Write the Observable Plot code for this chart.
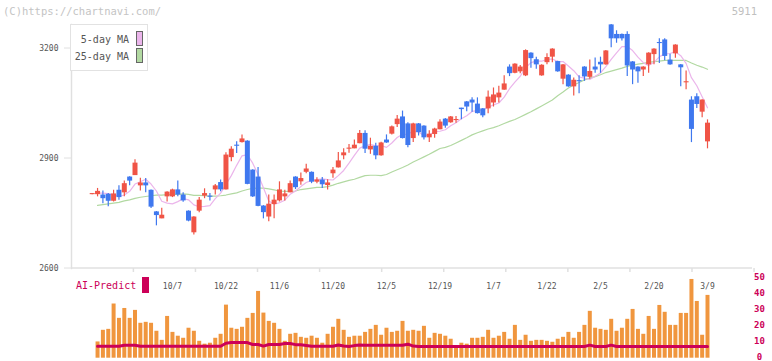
<!DOCTYPE html>
<html><head><meta charset="utf-8">
<script src="https://cdn.jsdelivr.net/npm/d3@7"></script>
<script src="https://cdn.jsdelivr.net/npm/@observablehq/plot@0.6"></script>
<style>
body{margin:0;background:#fff;}
#wrap{position:relative;width:772px;height:361px;overflow:hidden;font-family:"DejaVu Sans Mono",monospace;}
#wrap svg{position:absolute;left:0;top:0;}
.t{position:absolute;white-space:nowrap;line-height:1;}
</style></head><body><div id="wrap"></div>
<script>
// ---- data (bar index 0..115) ----
const opens  = [2800,2800,2799,2801,2782,2812,2805,2848,2852,2824,2832,2812,2753,2734,2794,2794,2813,2799,2755,2696,2755,2796,2796,2813,2833,2813,2901,2935,2942,2946,2867,2848,2769,2739,2773,2783,2794,2805,2848,2835,2861,2861,2834,2840,2825,2857,2873,2906,2924,2925,2939,2967,2922,2932,2906,2949,2965,2991,3012,2993,2953,2993,2987,2955,2964,2977,3006,2996,3002,3036,3053,3058,3047,3034,3034,3050,3064,3085,3148,3131,3135,3124,3186,3168,3124,3160,3175,3163,3115,3126,3094,3111,3148,3120,3148,3161,3154,3263,3237,3237,3237,3162,3148,3140,3154,3182,3215,3222,3167,3184,3154,3105,3058,3067,3025,2944];
const highs  = [2803,2817,2810,2803,2812,2824,2837,2849,2895,2845,2844,2813,2754,2763,2808,2815,2837,2805,2756,2740,2792,2816,2803,2828,2840,2914,2931,2944,2963,2947,2868,2874,2770,2799,2799,2835,2812,2837,2849,2859,2883,2862,2846,2847,2841,2874,2915,2925,2937,2949,2975,2974,2954,2940,2943,2963,2987,3016,3028,2996,2995,2994,2988,2974,2981,3004,3008,3013,3013,3036,3054,3064,3064,3035,3083,3091,3096,3124,3154,3157,3152,3195,3187,3175,3154,3184,3198,3164,3155,3127,3118,3124,3149,3167,3173,3175,3193,3264,3247,3238,3244,3163,3149,3149,3187,3198,3225,3225,3183,3209,3155,3137,3067,3075,3059,3004];
const lows   = [2800,2794,2775,2767,2780,2785,2794,2824,2852,2810,2805,2762,2715,2734,2780,2792,2794,2779,2726,2690,2751,2789,2783,2799,2808,2813,2890,2912,2941,2827,2792,2767,2734,2726,2734,2780,2783,2805,2814,2826,2857,2830,2830,2817,2813,2845,2873,2895,2913,2925,2939,2912,2910,2895,2905,2940,2963,2983,2952,2928,2942,2960,2949,2942,2954,2977,2981,2995,2995,3004,3026,3025,3020,3010,3021,3039,3050,3085,3122,3130,3130,3122,3145,3142,3123,3154,3160,3134,3100,3093,3069,3075,3109,3115,3131,3131,3153,3201,3213,3219,3122,3100,3104,3122,3131,3154,3158,3165,3153,3172,3094,3086,2942,3035,3010,2925];
const closes = [2803,2809,2789,2782,2802,2792,2830,2837,2886,2832,2824,2766,2743,2744,2807,2813,2799,2783,2728,2739,2785,2803,2793,2824,2813,2908,2924,2932,2952,2828,2794,2768,2751,2774,2785,2813,2802,2830,2819,2844,2870,2834,2840,2827,2832,2867,2892,2914,2927,2935,2967,2924,2932,2906,2941,2941,2985,3006,2953,2934,2993,2969,2955,2965,2979,2998,2987,3012,3005,3032,3039,3050,3021,3015,3066,3072,3077,3102,3130,3156,3148,3193,3171,3154,3153,3174,3197,3135,3154,3094,3112,3108,3121,3136,3140,3154,3192,3225,3225,3225,3151,3140,3135,3148,3186,3197,3212,3177,3154,3208,3146,3108,2978,3046,3058,2995];
const ma5    = [null,2804,2804,2803,2800,2795,2799,2809,2829,2835,2842,2829,2810,2782,2777,2775,2781,2789,2786,2772,2767,2768,2770,2789,2804,2828,2852,2880,2906,2909,2886,2855,2819,2783,2774,2778,2785,2801,2810,2822,2833,2839,2841,2843,2841,2840,2852,2866,2886,2907,2927,2933,2937,2933,2934,2929,2941,2956,2965,2964,2974,2971,2961,2963,2972,2973,2977,2988,2996,3007,3015,3027,3029,3031,3038,3045,3050,3066,3089,3107,3123,3146,3160,3164,3164,3169,3170,3163,3163,3151,3138,3121,3118,3114,3123,3132,3149,3169,3187,3204,3204,3193,3175,3160,3152,3161,3176,3184,3185,3190,3179,3158,3119,3097,3067,3037];
const ma25   = [null,2771,2773,2775,2777,2779,2783,2786,2790,2793,2795,2797,2799,2799,2800,2801,2801,2802,2801,2798,2798,2797,2796,2796,2797,2799,2802,2805,2810,2814,2817,2818,2818,2816,2813,2810,2809,2809,2810,2814,2816,2818,2820,2820,2822,2826,2831,2835,2839,2842,2847,2852,2853,2853,2852,2855,2862,2868,2874,2881,2889,2896,2903,2910,2918,2926,2929,2934,2941,2948,2955,2963,2969,2974,2979,2983,2988,2994,3000,3005,3012,3019,3026,3034,3042,3050,3058,3070,3080,3091,3099,3106,3113,3118,3122,3127,3133,3137,3141,3145,3150,3153,3156,3158,3161,3163,3164,3166,3166,3166,3166,3166,3159,3153,3148,3142];
const volumes = [null,10.2,17.5,18.1,34,25,31.2,25,30,21.9,22.5,21.9,16.9,11.2,26.2,16.2,13.8,12.5,18.8,16.9,10.6,8.8,9.4,12.5,15,33.3,18.8,18.1,19.4,25,28.1,41.9,28.3,23.1,21.9,18.1,10.6,15,15.6,13.1,12.5,13.8,12.5,9.4,15,19.4,24.4,17.5,13.1,13.8,13.8,16.2,18.1,20.6,14.4,18.8,16.2,16.9,23.1,16.9,17.5,16.9,20,12.5,15.6,15,13.8,11.9,7,9.4,8.8,12.5,12.5,13.1,17.5,12.5,13.8,16.2,11.9,20.6,11.2,14.4,10.6,11.2,11.2,10.6,10,11.9,13.1,16.2,12.5,16.2,20.6,29.4,18.8,18.1,17.5,24.4,16.9,18.8,24.4,30.6,18.1,15,26.2,18.1,33.1,28.8,20.6,20.6,28.1,28.1,49.4,35.6,14.4,39.4];
const aiPredict = [null,7.5,7.5,7.5,7.5,7.5,8.1,8.1,8.1,7.5,7.5,7.5,7.5,7.5,7.5,7.5,7.5,7.5,7.5,7.5,7.5,7.5,7.5,7.5,7.5,9.4,9.8,9.8,9.8,9.8,8.6,8.6,7.6,8.6,8.6,8.6,9.2,9.2,8.5,8.5,8.0,7.5,7.5,7.5,7.5,7.5,8.3,7.6,7.3,7.9,8.3,8.1,8.1,8.1,8.1,8.1,8.1,8.1,8.1,8.8,7.6,7.3,7.3,7.3,7.3,7.3,7.3,7.3,7.3,7.3,7.3,7.3,7.3,7.3,7.3,7.3,7.3,7.3,7.3,7.3,7.3,7.3,7.3,7.3,7.3,7.3,7.3,7.3,7.3,7.3,7.3,7.3,7.3,8.2,7.3,7.3,7.3,8.2,7.3,7.3,7.3,7.3,7.3,7.3,7.3,7.3,7.3,7.3,7.3,7.3,7.3,7.3,7.3,7.3,7.3,7.3];
const labelBars  = [15,25,35,45,55,65,75,85,95,105,115];
const labelDates = ["10/7","10/22","11/6","11/20","12/5","12/19","1/7","1/22","2/5","2/20","3/9"];
const gridTicks  = [7.7,19.3,30.9,42.5,54.1,65.7,77.3,88.9,100.5,112.1,123.7];
const priceTicks = [2600,2900,3200];
const volTicks   = [0,10,20,30,40,50];

const data = opens.map((o,i)=>({i, open:o, high:highs[i], low:lows[i], close:closes[i],
  vol:volumes[i], ai:aiPredict[i], ma5:ma5[i], ma25:ma25[i]}));
const RED="#f05446", BLUE="#3f78ef", GRID="#e0e0e0", MAG="#cc0058";
const col = d => d.close >= d.open ? RED : BLUE;
const font = {background:"transparent", fontFamily:"DejaVu Sans Mono, monospace", fontSize:"8px", overflow:"visible"};
const X = {type:"linear", domain:[0,115], range:[91.7,707]};

const pricePlot = Plot.plot({
  width:772, height:361, marginLeft:71, marginRight:20, marginTop:24, marginBottom:93,
  style:font, color:{type:"identity"},
  x:X,
  y:{type:"linear", domain:[2600,3200], range:[267.5,47.5]},
  marks:[
    Plot.frame({anchor:"left", stroke:GRID, strokeWidth:1.5}),
    Plot.ruleY([2600], {stroke:GRID, strokeWidth:1.5}),
    Plot.axisX({ticks:gridTicks, tickSize:4, tickFormat:()=>"", stroke:GRID, strokeWidth:1.5, label:null}),
    Plot.axisX({ticks:labelBars, tickSize:0, tickPadding:15, tickFormat:d=>labelDates[labelBars.indexOf(d)], fill:"#555", label:null}),
    Plot.axisY({ticks:priceTicks, tickSize:7, tickPadding:6, tickFormat:d=>String(d), stroke:GRID, fill:"#555", label:null}),
    Plot.line(data, {x:"i", y:"ma25", stroke:"#b2d9a2", strokeWidth:1.2}),
    Plot.line(data, {x:"i", y:"ma5", stroke:"#ebb5eb", strokeWidth:1.2}),
    Plot.ruleX(data, {x:"i", y1:"low", y2:"high", stroke:col, strokeWidth:1.2}),
    Plot.ruleX(data, {x:"i", y1:"open", y2:"close", stroke:col, strokeWidth:5})
  ]
});

const volPlot = Plot.plot({
  width:772, height:361, marginLeft:71, marginRight:20, marginTop:278, marginBottom:3,
  style:font,
  x:{...X, axis:null},
  y:{type:"linear", domain:[0,50], range:[357.7,278]},
  marks:[
    Plot.ruleX(data, {x:"i", y1:0, y2:"vol", stroke:"#f0963e", strokeWidth:4}),
    Plot.line(data, {x:"i", y:"ai", stroke:MAG, strokeWidth:3}),
    Plot.axisY({anchor:"right", ticks:volTicks, tickSize:0, tickPadding:7, textAnchor:"middle", dy:-1.5, fill:MAG, fontWeight:"bold", fontSize:9, label:null})
  ]
});

const wrap = document.getElementById("wrap");
wrap.appendChild(pricePlot);
wrap.appendChild(volPlot);
wrap.insertAdjacentHTML("beforeend", `
<div class="t" style="left:3px;top:6px;font-size:10.5px;color:#c4c4c4">(C)https://chartnavi.com/</div>
<div class="t" style="right:15px;top:6px;font-size:10.5px;color:#c0c0c0">5911</div>
<div style="position:absolute;left:70px;top:24px;width:78px;height:47px;box-sizing:border-box;border:1px solid #e2e2e2;background:#fff"></div>
<div class="t" style="right:643px;top:35px;font-size:10px;color:#555">5-day MA</div>
<div class="t" style="right:643px;top:52px;font-size:10px;color:#555">25-day MA</div>
<div style="position:absolute;left:136px;top:31px;width:7px;height:15px;box-sizing:border-box;border:1px solid #666;background:#ebb5eb"></div>
<div style="position:absolute;left:136px;top:48px;width:7px;height:15px;box-sizing:border-box;border:1px solid #666;background:#b2d9a2"></div>
<div class="t" style="left:76px;top:281px;font-size:10px;color:${MAG}">AI-Predict</div>
<div style="position:absolute;left:142px;top:277px;width:7px;height:16px;background:${MAG}"></div>
`);
</script></body></html>
